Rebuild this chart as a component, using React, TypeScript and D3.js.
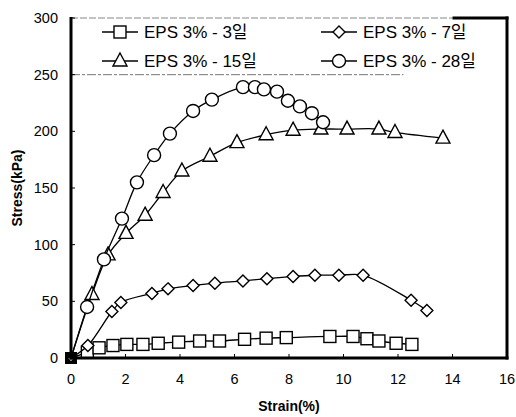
import * as d3 from "d3";

const W = 516;
const H = 417;
const margin = { top: 18, right: 9, bottom: 59, left: 71 };

// tick values
const xTicks = [0, 2, 4, 6, 8, 10, 12, 14, 16];
const yTicks = [0, 50, 100, 150, 200, 250, 300];

// EPS 3% - 3일 (squares)
const day3Strain = [0, 0.6, 1.03, 1.54, 2.05, 2.64, 3.2, 3.95, 4.72, 5.45, 6.37, 7.16, 7.9, 9.5, 10.35, 10.86, 11.3, 11.93, 12.51];
const day3Stress = [0, 5, 9, 11, 12, 12, 13, 14, 15, 15, 16.5, 17.5, 18, 19, 19, 17, 15, 13, 12];

// EPS 3% - 7일 (diamonds)
const day7Strain = [0, 0.62, 1.5, 1.83, 2.97, 3.56, 4.48, 5.28, 6.31, 7.19, 8.15, 8.95, 9.83, 10.72, 12.48, 13.06];
const day7Stress = [0, 11, 41, 49, 57, 61, 64, 66, 68, 70, 72, 73, 73, 73, 51, 42];

// EPS 3% - 15일 (triangles)
const day15Strain = [0, 0.77, 1.36, 2.02, 2.72, 3.38, 4.07, 5.1, 6.09, 7.16, 8.15, 9.17, 10.13, 11.3, 11.89, 13.65];
const day15Stress = [0, 56, 91, 110, 126, 146, 165, 178, 190, 197, 201, 202, 202, 202, 199, 194];

// EPS 3% - 28일 (circles)
const day28Strain = [0, 0.59, 1.21, 1.87, 2.42, 3.05, 3.63, 4.48, 5.17, 6.31, 6.75, 7.08, 7.56, 7.96, 8.4, 8.84, 9.25];
const day28Stress = [0, 45, 87, 123, 155, 179, 198, 218, 228, 239, 239, 237, 235, 227, 222, 216, 208];

const seriesNames = ["EPS 3% - 3일", "EPS 3% - 7일", "EPS 3% - 15일", "EPS 3% - 28일"];

type Shape = "square" | "diamond" | "triangle" | "circle";

const series: { name: string; shape: Shape; xs: number[]; ys: number[] }[] = [
  { name: seriesNames[0], shape: "square", xs: day3Strain, ys: day3Stress },
  { name: seriesNames[1], shape: "diamond", xs: day7Strain, ys: day7Stress },
  { name: seriesNames[2], shape: "triangle", xs: day15Strain, ys: day15Stress },
  { name: seriesNames[3], shape: "circle", xs: day28Strain, ys: day28Stress },
];

const font = "'Liberation Sans', Arial, 'Noto Sans CJK KR', sans-serif";

const Marker = ({ shape, x, y }: { shape: Shape; x: number; y: number }) => {
  const common = { fill: "#fff", stroke: "#000", strokeWidth: 1.4 };
  if (shape === "square") return <rect x={x - 6} y={y - 6} width={12} height={12} {...common} />;
  if (shape === "diamond")
    return <path d={`M${x},${y - 6}L${x + 6},${y}L${x},${y + 6}L${x - 6},${y}Z`} {...common} />;
  if (shape === "triangle")
    return <path d={`M${x},${y - 8}L${x + 7},${y + 5}L${x - 7},${y + 5}Z`} {...common} />;
  return <circle cx={x} cy={y} r={6.5} {...common} />;
};

export default function App() {
  const x = d3.scaleLinear().domain([0, 16]).range([margin.left, W - margin.right]);
  const y = d3.scaleLinear().domain([0, 300]).range([H - margin.bottom, margin.top]);

  const line = d3
    .line<[number, number]>()
    .x((d) => x(d[0]))
    .y((d) => y(d[1]))
    .curve(d3.curveCatmullRom.alpha(0.5));

  const x0 = margin.left;
  const x1 = W - margin.right;
  const y0 = H - margin.bottom;
  const y1 = margin.top;

  // legend layout
  const legendRows = [32, 61];
  const legendCols = [120, 339];

  return (
    <svg
      width={W}
      height={H}
      style={{ position: "absolute", left: 0, top: 0, background: "#fff" }}
      fontFamily={font}
    >
      {/* legend box (dashed grey) */}
      <line x1={x0} x2={x(14)} y1={y1} y2={y1} stroke="#888" strokeWidth={1} strokeDasharray="7,2" />
      <line x1={x0} x2={x(12.2)} y1={y(250)} y2={y(250)} stroke="#777" strokeWidth={1} strokeDasharray="9,2,3,2" />

      {/* ticks inward */}
      {yTicks.map((t) => (
        <line key={"yt" + t} x1={x0} x2={x0 + 4} y1={y(t)} y2={y(t)} stroke="#000" strokeWidth={1} />
      ))}
      {xTicks.map((t) => (
        <line key={"xt" + t} x1={x(t)} x2={x(t)} y1={y0} y2={y0 - 4} stroke="#000" strokeWidth={1} />
      ))}

      {/* series */}
      {series.map((s) => {
        const pts = s.xs.map((v, i) => [v, s.ys[i]] as [number, number]);
        return (
          <g key={s.name}>
            <path d={line(pts) || ""} fill="none" stroke="#000" strokeWidth={1.3} />
            {pts.slice(1).map((p, i) => (
              <Marker key={i} shape={s.shape} x={x(p[0])} y={y(p[1])} />
            ))}
          </g>
        );
      })}

      {/* overlapping origin markers */}
      <rect x={x(0) - 6} y={y(0) - 6} width={12} height={12} fill="#000" />
      <path d={`M${x(0) - 2},${y(0)}l2,2l2,-2`} stroke="#fff" strokeWidth={1.5} fill="none" />

      {/* frame */}
      <line x1={x0} x2={x0} y1={y1 - 1} y2={y0 + 1.5} stroke="#000" strokeWidth={3} />
      <line x1={x0 - 1.5} x2={x1 + 1.5} y1={y0} y2={y0} stroke="#000" strokeWidth={3} />
      <line x1={x1} x2={x1} y1={y1 - 1.5} y2={y0 + 1.5} stroke="#000" strokeWidth={3} />
      <line x1={x(14)} x2={x1 + 1.5} y1={y1} y2={y1} stroke="#000" strokeWidth={3} />

      {/* tick labels */}
      {yTicks.map((t) => (
        <text key={"yl" + t} x={x0 - 13} y={y(t)} dy="0.35em" textAnchor="end" fontSize={14.5}>
          {t}
        </text>
      ))}
      {xTicks.map((t) => (
        <text key={"xl" + t} x={x(t)} y={y0 + 26} textAnchor="middle" fontSize={14.5}>
          {t}
        </text>
      ))}

      {/* axis titles */}
      <text x={(x0 + x1) / 2} y={H - 6} textAnchor="middle" fontSize={14} fontWeight="bold">
        Strain(%)
      </text>
      <text
        transform={`translate(22,${(y0 + y1) / 2}) rotate(-90)`}
        textAnchor="middle"
        fontSize={14}
        fontWeight="bold"
      >
        Stress(kPa)
      </text>

      {/* legend */}
      {series.map((s, i) => {
        const cx = legendCols[i % 2];
        const cy = legendRows[Math.floor(i / 2)];
        return (
          <g key={"lg" + s.name}>
            <line x1={cx - 18} x2={cx + 18} y1={cy} y2={cy} stroke="#000" strokeWidth={1.3} />
            <Marker shape={s.shape} x={cx} y={cy} />
            <text x={cx + 24} y={cy} dy="0.36em" fontSize={17}>
              {s.name}
            </text>
          </g>
        );
      })}
    </svg>
  );
}
